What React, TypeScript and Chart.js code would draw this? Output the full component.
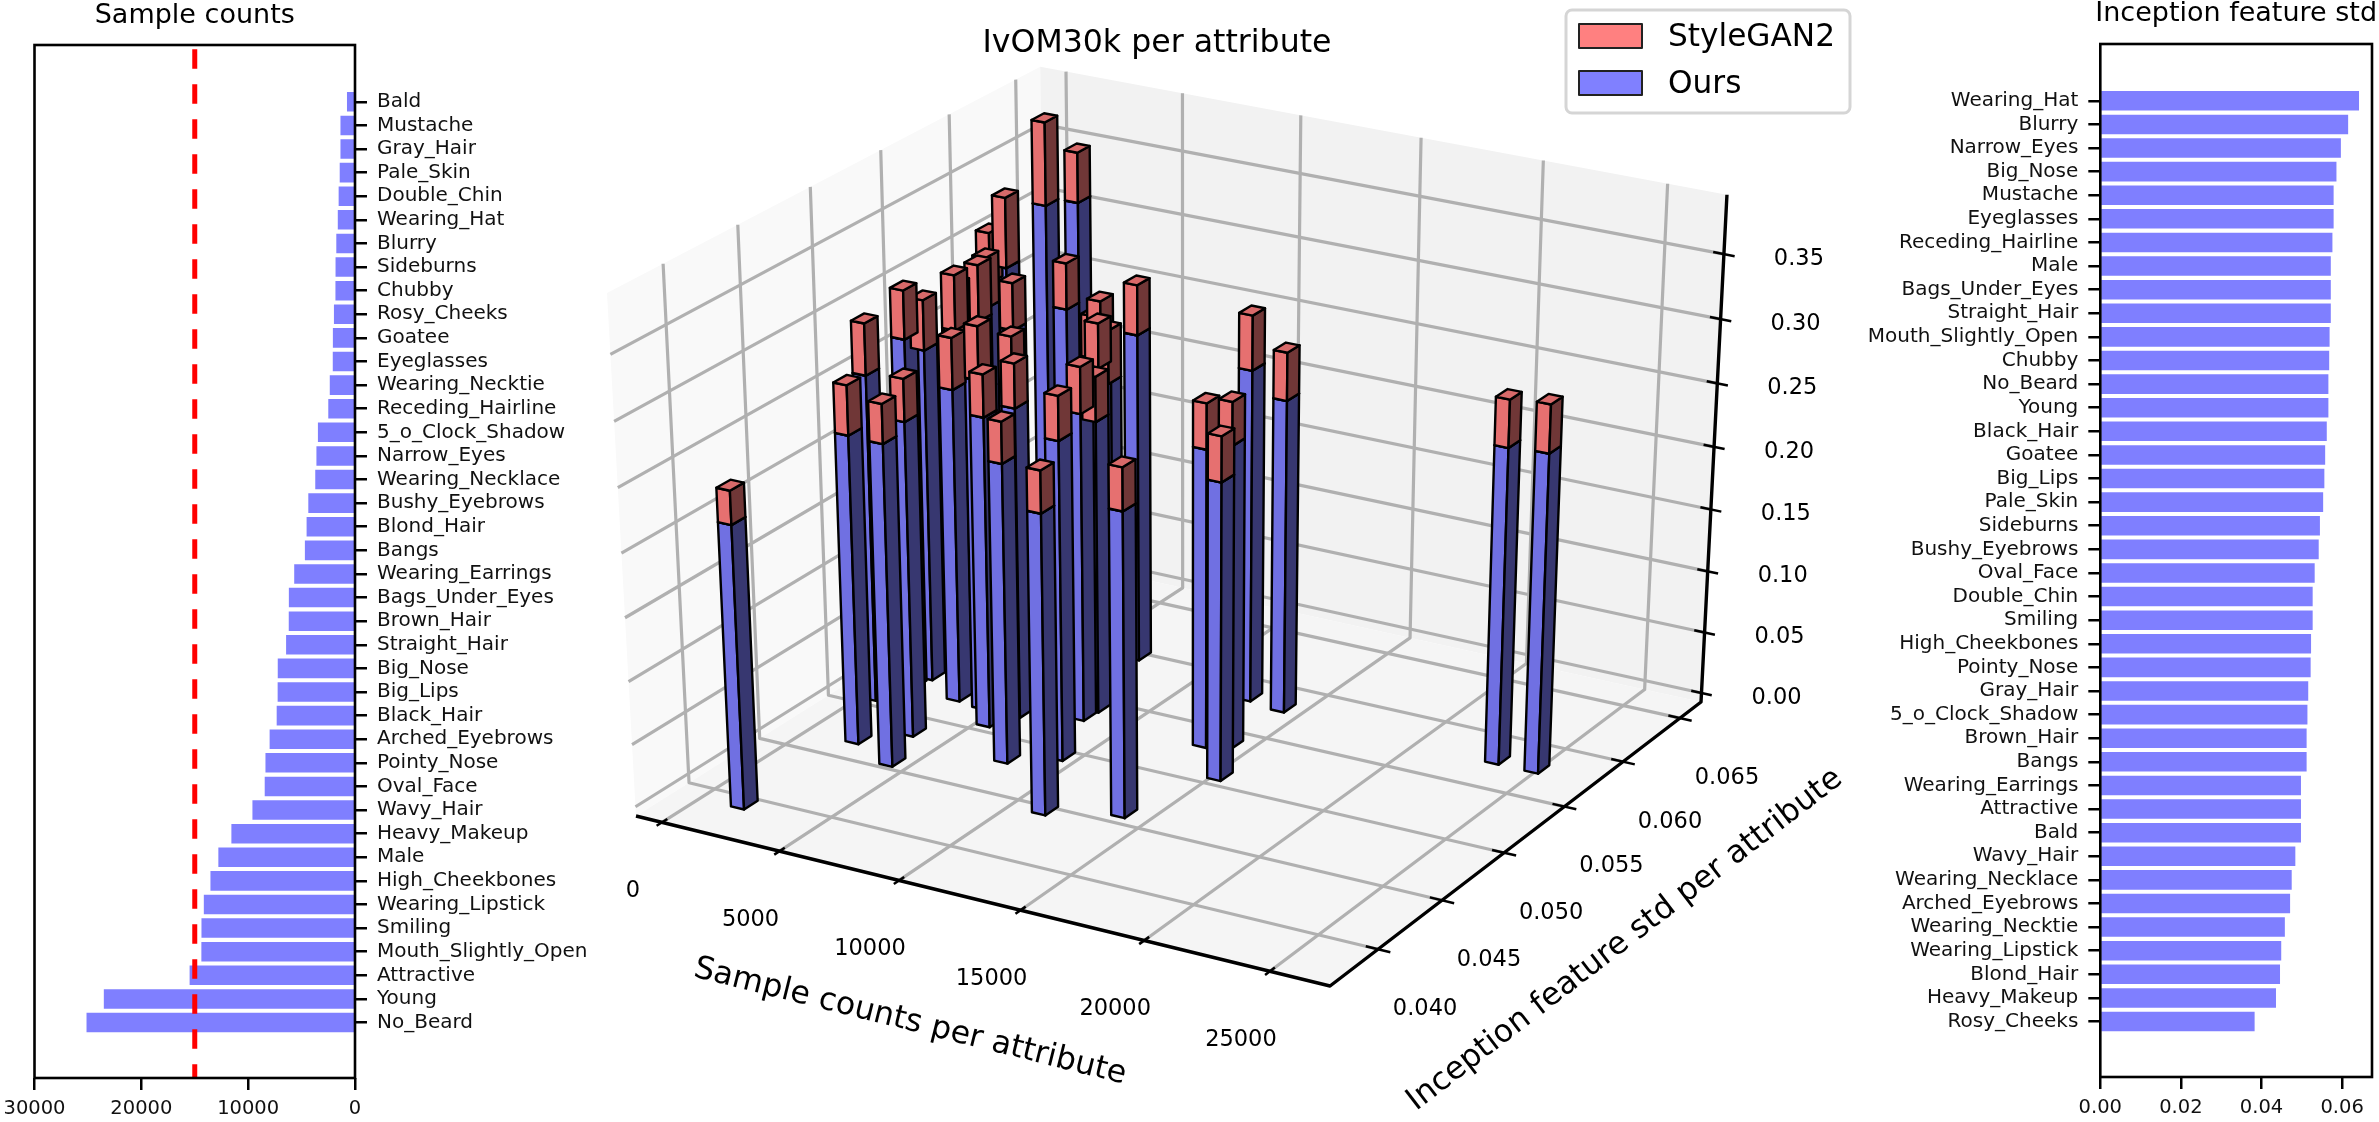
import React, { useEffect, useRef } from "react";
import { Chart, registerables } from "chart.js";

Chart.register(...registerables);

const FONT = "'DejaVu Sans'";

// attributes sorted by sample count (left panel), top to bottom
const countNames = ["Bald", "Mustache", "Gray_Hair", "Pale_Skin", "Double_Chin", "Wearing_Hat", "Blurry", "Sideburns", "Chubby", "Rosy_Cheeks", "Goatee", "Eyeglasses", "Wearing_Necktie", "Receding_Hairline", "5_o_Clock_Shadow", "Narrow_Eyes", "Wearing_Necklace", "Bushy_Eyebrows", "Blond_Hair", "Bangs", "Wearing_Earrings", "Bags_Under_Eyes", "Brown_Hair", "Straight_Hair", "Big_Nose", "Big_Lips", "Black_Hair", "Arched_Eyebrows", "Pointy_Nose", "Oval_Face", "Wavy_Hair", "Heavy_Makeup", "Male", "High_Cheekbones", "Wearing_Lipstick", "Smiling", "Mouth_Slightly_Open", "Attractive", "Young", "No_Beard"];
const sampleCounts = [720, 1330, 1330, 1400, 1500, 1580, 1720, 1790, 1800, 1940, 2040, 2050, 2330, 2470, 3440, 3580, 3690, 4340, 4500, 4660, 5660, 6160, 6170, 6420, 7200, 7210, 7300, 7960, 8350, 8420, 9570, 11540, 12760, 13500, 14120, 14340, 14350, 15450, 23480, 25100];

// attributes sorted by feature std (right panel), top to bottom
const stdNames = ["Wearing_Hat", "Blurry", "Narrow_Eyes", "Big_Nose", "Mustache", "Eyeglasses", "Receding_Hairline", "Male", "Bags_Under_Eyes", "Straight_Hair", "Mouth_Slightly_Open", "Chubby", "No_Beard", "Young", "Black_Hair", "Goatee", "Big_Lips", "Pale_Skin", "Sideburns", "Bushy_Eyebrows", "Oval_Face", "Double_Chin", "Smiling", "High_Cheekbones", "Pointy_Nose", "Gray_Hair", "5_o_Clock_Shadow", "Brown_Hair", "Bangs", "Wearing_Earrings", "Attractive", "Bald", "Wavy_Hair", "Wearing_Necklace", "Arched_Eyebrows", "Wearing_Necktie", "Wearing_Lipstick", "Blond_Hair", "Heavy_Makeup", "Rosy_Cheeks"];
const featureStd = [0.0641, 0.0614, 0.0596, 0.0585, 0.0578, 0.0578, 0.0575, 0.0571, 0.0571, 0.0571, 0.0568, 0.0567, 0.0565, 0.0565, 0.0561, 0.0557, 0.0555, 0.0552, 0.0544, 0.0541, 0.0531, 0.0526, 0.0526, 0.0522, 0.0521, 0.0515, 0.0513, 0.0511, 0.0511, 0.0497, 0.0497, 0.0497, 0.0483, 0.0474, 0.047, 0.0457, 0.0448, 0.0445, 0.0435, 0.0382];

// bar heights of the 3D panel, same order as countNames
const oursHeights = [0.2607, 0.2865, 0.28, 0.2612, 0.2655, 0.3142, 0.3277, 0.2714, 0.275, 0.2236, 0.2716, 0.3009, 0.2455, 0.2554, 0.2502, 0.2634, 0.2506, 0.2389, 0.2552, 0.2636, 0.2473, 0.2496, 0.2476, 0.2584, 0.2633, 0.2555, 0.2403, 0.2378, 0.2456, 0.2334, 0.2535, 0.2368, 0.2654, 0.2377, 0.2405, 0.2413, 0.2499, 0.2362, 0.2513, 0.2534];
const styleganHeights = [0.3011, 0.3257, 0.318, 0.3004, 0.3046, 0.3537, 0.3925, 0.3143, 0.3143, 0.2498, 0.3155, 0.3555, 0.2842, 0.2925, 0.2906, 0.2997, 0.2839, 0.2782, 0.2858, 0.3054, 0.2807, 0.2826, 0.2825, 0.2953, 0.3025, 0.2907, 0.2819, 0.2702, 0.2821, 0.2686, 0.2881, 0.2696, 0.3081, 0.2734, 0.274, 0.2753, 0.2873, 0.2716, 0.2884, 0.291];

const countTicks = [0, 5000, 10000, 15000, 20000, 25000];
const stdTicks = [0.04, 0.045, 0.05, 0.055, 0.06, 0.065];
const heightTicks = [0, 0.05, 0.1, 0.15, 0.2, 0.25, 0.3, 0.35];
const leftTicks = [0, 10000, 20000, 30000];
const rightTicks = [0, 0.02, 0.04, 0.06];
const threshold = 15000;

const view = { a: -0.04701, b: 0.08784, c: -0.05, ox: 636, oy: 816, ux: 631.5, uy: 123.65, vx: 502.97, vy: -209, wx: -59.35, wy: -537.65 };
const barDx = 560;
const barDy = 0.00095;
const barShift = -120;

function project(u: number, v: number, w: number): [number, number] {
  const d = 1 + view.a * u + view.b * v + view.c * w;
  return [(view.ox + view.ux * u + view.vx * v + view.wx * w) / d, (view.oy + view.uy * u + view.vy * v + view.wy * w) / d];
}

function poly(ctx: CanvasRenderingContext2D, pts: [number, number][], fill: string | null, stroke: string | null, lw = 2.4) {
  ctx.beginPath();
  pts.forEach((p, i) => (i ? ctx.lineTo(p[0], p[1]) : ctx.moveTo(p[0], p[1])));
  if (fill) {
    ctx.closePath();
    ctx.fillStyle = fill;
    ctx.fill();
  }
  if (stroke) {
    ctx.strokeStyle = stroke;
    ctx.lineWidth = lw;
    ctx.stroke();
  }
}

const fraction = (s: any, v: number) => (v - s.min) / (s.max - s.min);

const scene3d = {
  id: "scene3d",
  afterDatasetsDraw(chart: any) {
    const ctx: CanvasRenderingContext2D = chart.ctx;
    const U = (x: number) => fraction(chart.scales.count, x);
    const V = (y: number) => fraction(chart.scales.std, y);
    const W = (z: number) => fraction(chart.scales.height, z);
    ctx.save();
    ctx.lineJoin = "round";

    poly(ctx, [project(0, 0, 0), project(0, 1, 0), project(0, 1, 1), project(0, 0, 1)], "#f9f9f9", null);
    poly(ctx, [project(0, 1, 0), project(1, 1, 0), project(1, 1, 1), project(0, 1, 1)], "#f2f2f2", null);
    poly(ctx, [project(0, 0, 0), project(1, 0, 0), project(1, 1, 0), project(0, 1, 0)], "#f5f5f5", null);

    const gridCol = "#b0b0b0";
    const gridW = 3.2;
    countTicks.forEach((t) => {
      const u = U(t);
      poly(ctx, [project(u, 0, 0), project(u, 1, 0), project(u, 1, 1)], null, gridCol, gridW);
    });
    stdTicks.forEach((t) => {
      const v = V(t);
      poly(ctx, [project(1, v, 0), project(0, v, 0), project(0, v, 1)], null, gridCol, gridW);
    });
    heightTicks.forEach((t) => {
      const w = W(t);
      poly(ctx, [project(0, 0, w), project(0, 1, w), project(1, 1, w)], null, gridCol, gridW);
    });

    // axis lines and tick marks
    poly(ctx, [project(0, 0, 0), project(1, 0, 0), project(1, 1, 0), project(1, 1, 1)], null, "#000", 3.4);
    countTicks.forEach((t) => poly(ctx, [project(U(t), 0.012, 0), project(U(t), -0.012, 0)], null, "#000", 2.5));
    stdTicks.forEach((t) => poly(ctx, [project(0.983, V(t), 0), project(1.017, V(t), 0)], null, "#000", 2.5));
    heightTicks.forEach((t) => poly(ctx, [project(0.985, 1, W(t)), project(1.015, 1, W(t))], null, "#000", 2.5));

    // bars: back to front, the stacked top part after the lower part
    const ours = chart.data.datasets[1].data;
    const top = chart.data.datasets[0].data;
    const order = ours.map((_: any, i: number) => i).sort((i: number, j: number) => {
      const k = (n: number) => 0.5 * U(ours[n].x) - 0.866 * V(ours[n].y);
      return k(i) - k(j);
    });
    const drawBar = (i: number, z0: number, z1: number, left: string, right: string, lid: string) => {
      const u0 = U(ours[i].x + barShift);
      const u1 = U(ours[i].x + barShift + barDx);
      const v0 = V(ours[i].y);
      const v1 = V(ours[i].y + barDy);
      const w0 = W(z0);
      const w1 = W(z1);
      const edge = "#000";
      poly(ctx, [project(u0, v0, w0), project(u1, v0, w0), project(u1, v0, w1), project(u0, v0, w1)], left, edge);
      poly(ctx, [project(u1, v0, w0), project(u1, v1, w0), project(u1, v1, w1), project(u1, v0, w1)], right, edge);
      poly(ctx, [project(u0, v0, w1), project(u1, v0, w1), project(u1, v1, w1), project(u0, v1, w1)], lid, edge);
    };
    order.forEach((i: number) => drawBar(i, 0, ours[i].h, "#7070e2", "#373770", "#6a6ad8"));
    order.forEach((i: number) => drawBar(i, ours[i].h, top[i].h, "#e67070", "#703737", "#d86a6a"));

    // tick labels and axis titles
    ctx.fillStyle = "#000";
    ctx.textAlign = "center";
    ctx.textBaseline = "middle";
    ctx.font = "22.5px " + FONT;
    countTicks.forEach((t) => {
      const p = project(U(t), 0, 0);
      ctx.fillText(String(t), p[0] - 29, p[1] + 69);
    });
    stdTicks.forEach((t) => {
      const p = project(1, V(t), 0);
      ctx.fillText(t.toFixed(3), p[0] + 47, p[1] + 60);
    });
    heightTicks.forEach((t) => {
      const p = project(1, 1, W(t));
      ctx.fillText(t.toFixed(2), p[0] + 75, p[1] + 5);
    });
    ctx.font = "31.6px " + FONT;
    ctx.fillText("IvOM30k per attribute", 1157, 44);
    const rotated = (txt: string, x: number, y: number, deg: number) => {
      ctx.save();
      ctx.translate(x, y);
      ctx.rotate((deg * Math.PI) / 180);
      ctx.fillText(txt, 0, 0);
      ctx.restore();
    };
    rotated("Sample counts per attribute", 910, 1022, 14);
    rotated("Inception feature std per attribute", 1625, 940, -37.6);

    // legend
    ctx.beginPath();
    ctx.roundRect(1566, 10, 284, 103, 6);
    ctx.fillStyle = "rgba(255,255,255,0.8)";
    ctx.fill();
    ctx.strokeStyle = "#d5d5d5";
    ctx.lineWidth = 3;
    ctx.stroke();
    chart.data.datasets.forEach((ds: any, i: number) => {
      const y = i === 0 ? 24 : 71;
      ctx.fillStyle = ds.swatch;
      ctx.fillRect(1579, y, 63, 24);
      ctx.strokeStyle = "#222";
      ctx.lineWidth = 2;
      ctx.strokeRect(1579, y, 63, 24);
      ctx.fillStyle = "#000";
      ctx.textAlign = "left";
      ctx.font = "31.2px " + FONT;
      ctx.fillText(ds.label, 1668, y + 14);
    });
    ctx.restore();
  },
};

const panelFrame = {
  id: "panelFrame",
  afterDraw(chart: any, _args: any, opts: any) {
    const { ctx, chartArea: a } = chart;
    ctx.save();
    ctx.strokeStyle = "#000";
    ctx.lineWidth = 2.6;
    ctx.strokeRect(a.left, a.top, a.right - a.left, a.bottom - a.top);
    ctx.fillStyle = "#000";
    ctx.font = "27px " + FONT;
    ctx.textAlign = "center";
    ctx.textBaseline = "middle";
    ctx.fillText(opts.text, (a.left + a.right) / 2, opts.y);
    ctx.restore();
  },
};

function barOptions(names: string[], xMax: number, xTicks: number[], left: boolean): any {
  return {
    indexAxis: "y",
    responsive: false,
    animation: false,
    devicePixelRatio: 1,
    layout: { padding: left ? { left: 34.5, top: 45 } : { right: 7, top: 44 } },
    plugins: { legend: { display: false }, tooltip: { enabled: false } },
    scales: {
      x: {
        type: "linear",
        min: 0,
        max: xMax,
        reverse: left,
        afterBuildTicks: (s: any) => {
          s.ticks = xTicks.map((value) => ({ value }));
        },
        afterFit: (s: any) => {
          s.height = left ? 44 : 45;
        },
        grid: { drawOnChartArea: false, drawTicks: true, tickLength: 12, color: "#000", lineWidth: 2.5 },
        border: { display: false },
        ticks: {
          color: "#111",
          maxRotation: 0,
          font: { family: FONT, size: 19.5 },
          padding: 7,
          callback: (v: number) => (left ? String(v) : v.toFixed(2)),
        },
      },
      y: {
        type: "linear",
        position: left ? "right" : "left",
        offset: false,
        min: -2.406,
        max: 41.35,
        reverse: true,
        afterBuildTicks: (s: any) => {
          s.ticks = names.map((_, value) => ({ value }));
        },
        afterFit: (s: any) => {
          s.width = left ? 245 : 250.3;
        },
        grid: { offset: false, drawOnChartArea: false, drawTicks: true, tickLength: 12, color: "#000", lineWidth: 2.5 },
        border: { display: false },
        ticks: {
          autoSkip: false,
          color: "#111",
          font: { family: FONT, size: 20 },
          padding: 10,
          callback: (v: number) => names[v],
        },
      },
    },
  };
}

function App() {
  const leftRef = useRef<HTMLCanvasElement>(null);
  const midRef = useRef<HTMLCanvasElement>(null);
  const rightRef = useRef<HTMLCanvasElement>(null);

  useEffect(() => {
    const leftOpts = barOptions(countNames, 30000, leftTicks, true);
    leftOpts.plugins.panelFrame = { text: "Sample counts", y: 16 };
    const left = new Chart(leftRef.current as HTMLCanvasElement, {
      type: "bar",
      data: {
        datasets: [
          {
            type: "scatter",
            data: [
              { x: threshold, y: -2.23 },
              { x: threshold, y: 41.35 },
            ],
            showLine: true,
            pointRadius: 0,
            borderColor: "#ff0000",
            borderWidth: 5,
            borderDash: [19.6, 15.4],
            order: 0,
          },
          {
            type: "bar",
            data: sampleCounts.map((x, y) => ({ x, y })),
            backgroundColor: "rgba(0,0,255,0.5)",
            barThickness: 18.9,
            order: 1,
          },
        ],
      } as any,
      options: leftOpts,
      plugins: [panelFrame],
    });

    const rightOpts = barOptions(stdNames, 0.0674, rightTicks, false);
    rightOpts.plugins.panelFrame = { text: "Inception feature std", y: 14 };
    const right = new Chart(rightRef.current as HTMLCanvasElement, {
      type: "bar",
      data: {
        datasets: [
          {
            data: featureStd.map((x, y) => ({ x, y })),
            backgroundColor: "rgba(0,0,255,0.5)",
            barThickness: 18.9,
          },
        ],
      } as any,
      options: rightOpts,
      plugins: [panelFrame],
    });

    const stdOf = (name: string) => featureStd[stdNames.indexOf(name)];
    const mid = new Chart(midRef.current as HTMLCanvasElement, {
      type: "scatter",
      data: {
        datasets: [
          {
            label: "StyleGAN2",
            swatch: "#ff8080",
            xAxisID: "count",
            yAxisID: "std",
            pointRadius: 0,
            data: countNames.map((n, i) => ({ x: sampleCounts[i], y: stdOf(n), h: styleganHeights[i] })),
          },
          {
            label: "Ours",
            swatch: "#8080ff",
            xAxisID: "count",
            yAxisID: "std",
            pointRadius: 0,
            data: countNames.map((n, i) => ({ x: sampleCounts[i], y: stdOf(n), h: oursHeights[i] })),
          },
        ],
      } as any,
      options: {
        responsive: false,
        animation: false,
        devicePixelRatio: 1,
        plugins: { legend: { display: false }, tooltip: { enabled: false } },
        scales: {
          count: { type: "linear", axis: "x", display: false, min: -1116, max: 27358 },
          std: { type: "linear", axis: "y", display: false, min: 0.03634, max: 0.06688 },
          height: { type: "linear", axis: "y", display: false, min: -0.0075, max: 0.3951 },
        },
      } as any,
      plugins: [scene3d],
    });

    return () => {
      left.destroy();
      right.destroy();
      mid.destroy();
    };
  }, []);

  return (
    <div style={{ position: "absolute", left: 0, top: 0, width: 2379, height: 1122, overflow: "hidden", background: "#fff" }}>
      <canvas ref={midRef} width={2379} height={1122} style={{ position: "absolute", left: 0, top: 0 }} />
      <canvas ref={leftRef} width={600} height={1122} style={{ position: "absolute", left: 0, top: 0 }} />
      <canvas ref={rightRef} width={529} height={1122} style={{ position: "absolute", left: 1850, top: 0 }} />
    </div>
  );
}

export default App;
